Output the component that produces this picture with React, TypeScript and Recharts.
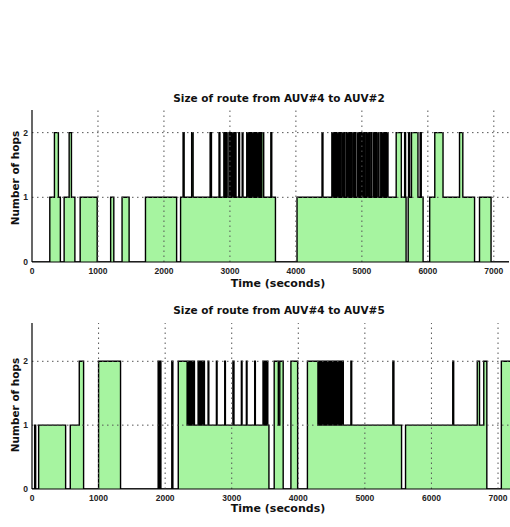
import React from 'react';
import { AreaChart, Area, XAxis, YAxis, ReferenceLine } from 'recharts';

// X tick labels / grid positions
const xTicks = [0, 1000, 2000, 3000, 4000, 5000, 6000, 7000];
const yTicks = [0, 1, 2];
const gridX = [1000, 2000, 3000, 4000, 5000, 6000, 7000];
const gridY = [1, 2];

// Route AUV#4 -> AUV#2 : step change times (s) and hop counts holding from that time
const topTimes = [
  0, 270, 340, 400, 430, 487, 563, 598, 650, 730, 988, 1192, 1240, 1365, 1472, 1720, 2192, 2252,
  2290, 2306, 2420, 2442, 2700, 2720, 2835, 2848, 2908, 2922, 2943, 2958, 2985, 2998, 3010, 3022,
  3034, 3046, 3058, 3070, 3080, 3092, 3134, 3146, 3186, 3198, 3255, 3268, 3278, 3292, 3302, 3316,
  3326, 3340, 3350, 3364, 3376, 3390, 3402, 3416, 3426, 3440, 3452, 3464, 3484, 3512, 3620, 3634,
  3690, 4017, 4396, 4410, 4545, 4558, 4575, 4588, 4604, 4618, 4636, 4648, 4664, 4678, 4700, 4712,
  4728, 4742, 4766, 4780, 4796, 4810, 4828, 4842, 4864, 4878, 4896, 4910, 4936, 4950, 4970, 4984,
  5000, 5014, 5030, 5044, 5066, 5080, 5100, 5114, 5136, 5150, 5176, 5190, 5210, 5224, 5246, 5260,
  5286, 5300, 5318, 5332, 5348, 5362, 5380, 5396, 5520, 5598, 5648, 5662, 5670, 5702, 5708, 5724,
  5752, 5850, 5884, 5900, 5928, 6028, 6105, 6230, 6480, 6530, 6708, 6783, 6958, 7230,
];
const topHops = [
  0, 1, 2, 1, 0, 1, 2, 1, 0, 1, 0, 1, 0, 1, 0, 1, 0, 1,
  2, 1, 2, 1, 2, 1, 2, 1, 2, 1, 2, 1, 2, 1, 2, 1,
  2, 1, 2, 1, 2, 1, 2, 1, 2, 1, 2, 1, 2, 1, 2, 1,
  2, 1, 2, 1, 2, 1, 2, 1, 2, 1, 2, 1, 2, 1, 2, 1,
  0, 1, 2, 1, 2, 1, 2, 1, 2, 1, 2, 1, 2, 1, 2, 1,
  2, 1, 2, 1, 2, 1, 2, 1, 2, 1, 2, 1, 2, 1, 2, 1,
  2, 1, 2, 1, 2, 1, 2, 1, 2, 1, 2, 1, 2, 1, 2, 1,
  2, 1, 2, 1, 2, 1, 2, 1, 2, 1, 2, 1, 0, 1, 2, 1,
  2, 1, 2, 1, 0, 1, 2, 1, 2, 1, 0, 1, 0, 0,
];

// Route AUV#4 -> AUV#5
const bottomTimes = [
  0, 40, 55, 100, 505, 575, 710, 775, 1000, 1330, 1895, 1908, 1922, 1936, 2100, 2116, 2197, 2330,
  2345, 2360, 2372, 2388, 2400, 2416, 2424, 2440, 2495, 2510, 2522, 2538, 2550, 2566, 2574, 2590,
  2645, 2656, 2770, 2780, 2895, 2905, 3018, 3034, 3145, 3155, 3220, 3230, 3345, 3355, 3470, 3480,
  3500, 3512, 3528, 3542, 3559, 3638, 3700, 3722, 3773, 3889, 3990, 4137, 4295,
  4306, 4318, 4330, 4342, 4352, 4364, 4376, 4390, 4402, 4414, 4428, 4442, 4456, 4470, 4484, 4498,
  4512, 4526, 4542, 4556, 4574, 4588, 4606, 4620, 4640, 4652, 4664, 4676, 4790, 4802, 5420, 5436,
  5551, 5611, 6320, 6334, 6688, 6722, 6786, 6832, 7050, 7180,
];
const bottomHops = [
  0, 1, 0, 1, 0, 1, 2, 0, 2, 0, 2, 0, 2, 0, 2, 0, 2, 1,
  2, 1, 2, 1, 2, 1, 2, 1, 2, 1, 2, 1, 2, 1, 2, 1,
  2, 1, 2, 1, 2, 1, 2, 1, 2, 1, 2, 1, 2, 1, 2, 1,
  2, 1, 2, 1, 0, 2, 1, 2, 0, 2, 0, 2, 1,
  2, 1, 2, 1, 2, 1, 2, 1, 2, 1, 2, 1, 2, 1, 2, 1,
  2, 1, 2, 1, 2, 1, 2, 1, 2, 1, 2, 1, 2, 1, 2, 1,
  0, 1, 2, 1, 2, 1, 2, 0, 2, 2,
];

const build = (times: number[], hops: number[]) => times.map((t, i) => ({ t, hops: hops[i] }));
const topData = build(topTimes, topHops);
const bottomData = build(bottomTimes, bottomHops);

const tickStyle = {
  fontSize: 8.5,
  fontFamily: '"Liberation Sans Narrow", "Liberation Sans", Arial, sans-serif',
  fontWeight: 700,
  fill: '#222',
};

const GREEN = '#a6f4a0';

type PanelProps = {
  top: number;
  height: number;
  data: { t: number; hops: number }[];
  xMax: number;
  yMax: number;
  right: number;
};

const Panel = ({ top, height, data, xMax, yMax, right }: PanelProps) => (
  <div style={{ position: 'absolute', left: 0, top, width: 510, height }}>
    <AreaChart width={510} height={height} data={data} margin={{ top: 10, right, bottom: 0, left: 0 }}>
      <Area
        type="stepAfter"
        dataKey="hops"
        stroke="#000"
        strokeWidth={1.4}
        fill={GREEN}
        fillOpacity={1}
        dot={false}
        activeDot={false}
        isAnimationActive={false}
      />
      {gridX.map((x) => (
        <ReferenceLine key={'gx' + x} x={x} stroke="#555" strokeWidth={1} strokeDasharray="1.5 3.5" />
      ))}
      {gridY.map((y) => (
        <ReferenceLine key={'gy' + y} y={y} stroke="#555" strokeWidth={1} strokeDasharray="1.5 3.5" />
      ))}
      <XAxis
        dataKey="t"
        type="number"
        domain={[0, xMax]}
        ticks={xTicks}
        allowDataOverflow
        height={20}
        tickSize={0}
        tickMargin={6}
        tickLine={false}
        axisLine={{ stroke: '#000', strokeWidth: 1.2 }}
        tick={tickStyle}
      />
      <YAxis
        type="number"
        domain={[0, yMax]}
        ticks={yTicks}
        allowDataOverflow
        width={32}
        tickSize={0}
        tickMargin={4}
        tickLine={false}
        axisLine={{ stroke: '#000', strokeWidth: 1.2 }}
        tick={tickStyle}
      />
    </AreaChart>
  </div>
);

const textBase: React.CSSProperties = {
  position: 'absolute',
  fontFamily: '"DejaVu Sans", sans-serif',
  fontWeight: 700,
  color: '#111',
  textAlign: 'center',
  whiteSpace: 'nowrap',
};

const Title = ({ text, cy }: { text: string; cy: number }) => (
  <div style={{ ...textBase, left: 279 - 160, width: 320, top: cy - 6, height: 12, lineHeight: '12px', fontSize: 10.5 }}>
    {text}
  </div>
);

const XLabel = ({ cy }: { cy: number }) => (
  <div style={{ ...textBase, left: 278 - 80, width: 160, top: cy - 5, height: 10, lineHeight: '10px', fontSize: 11 }}>
    Time (seconds)
  </div>
);

const YLabel = ({ cy }: { cy: number }) => (
  <div
    style={{
      ...textBase,
      left: 15 - 70,
      width: 140,
      top: cy - 6,
      height: 12,
      lineHeight: '12px',
      fontSize: 10.5,
      transform: 'rotate(-90deg)',
    }}
  >
    Number of hops
  </div>
);

export default function App() {
  return (
    <div style={{ position: 'absolute', left: 0, top: 0, width: 510, height: 527, background: '#fff', overflow: 'hidden' }}>
      <Title text="Size of route from AUV#4 to AUV#2" cy={98} />
      <Panel top={100} height={182} data={topData} xMax={7230} yMax={2.35} right={1} />
      <XLabel cy={284} />
      <YLabel cy={178} />

      <Title text="Size of route from AUV#4 to AUV#5" cy={310} />
      <Panel top={313} height={196} data={bottomData} xMax={7180} yMax={2.6} right={0} />
      <XLabel cy={509} />
      <YLabel cy={405} />
    </div>
  );
}
